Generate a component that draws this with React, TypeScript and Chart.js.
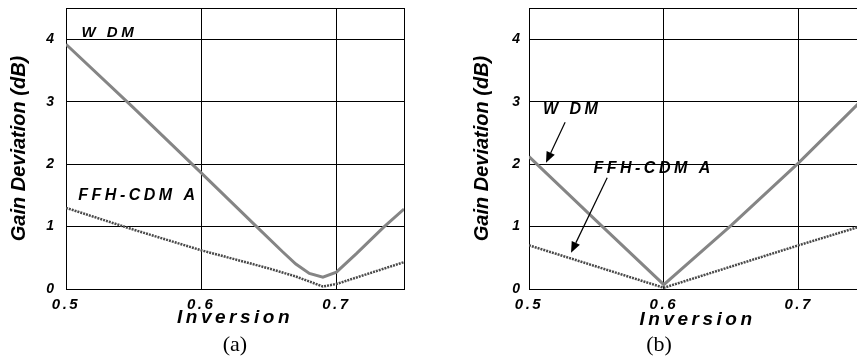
import React, { useEffect, useRef } from 'react';
import { Chart, registerables, LinearScale } from 'chart.js';

// ---------------- data ----------------
const X_TICKS = [0.5, 0.6, 0.7];
const Y_TICKS = [0, 1, 2, 3, 4];

// panel (a)
const A_WDM_X = [0.5, 0.55, 0.6, 0.64, 0.66, 0.67, 0.68, 0.69, 0.7, 0.715, 0.735, 0.75];
const A_WDM_Y = [3.92, 2.9, 1.86, 1.02, 0.6, 0.4, 0.25, 0.19, 0.27, 0.57, 0.99, 1.28];
const A_FFH_X = [0.5, 0.55, 0.6, 0.65, 0.67, 0.69, 0.7, 0.72, 0.75];
const A_FFH_Y = [1.3, 0.95, 0.62, 0.33, 0.2, 0.04, 0.08, 0.22, 0.43];

// panel (b)
const B_X = [0.5, 0.55, 0.6, 0.65, 0.7, 0.75];
const B_WDM_Y = [2.12, 1.09, 0.07, 1.02, 2.02, 3.09];
const B_FFH_Y = [0.7, 0.36, 0.02, 0.36, 0.7, 1.03];

const SERIES_NAMES = ['W DM', 'FFH-CDM A'];
const PANEL_LABELS = ['(a)', '(b)'];
const X_TITLE = 'Inversion';
const Y_TITLE = 'Gain Deviation (dB)';

// annotation anchors (data coordinates)
const A_TEXT_POS = [
  { x: 0.5115, y: 4.03, size: 15 },
  { x: 0.5091, y: 1.43, size: 16 },
];
const B_TEXT_POS = [
  { x: 0.5104, y: 2.8, size: 16 },
  { x: 0.5478, y: 1.85, size: 16 },
];
const B_ARROWS = [
  { from: [0.5268, 2.67], to: [0.5126, 2.02] },
  { from: [0.558, 1.78], to: [0.5312, 0.58] },
];

// ---------------- chart setup ----------------
class SpacedLinearScale extends LinearScale {
  static id = 'spacedLinear';
  drawLabels(area: any) {
    const ctx = this.ctx;
    ctx.save();
    (ctx as any).letterSpacing = this.axis === 'x' ? '2.5px' : '0px';
    super.drawLabels(area);
    ctx.restore();
  }
  drawTitle() {
    const ctx = this.ctx;
    ctx.save();
    (ctx as any).letterSpacing = this.axis === 'x' ? '3.5px' : '0px';
    super.drawTitle();
    ctx.restore();
  }
}
Chart.register(...registerables, SpacedLinearScale);

const FAMILY = '"Liberation Sans", Arial, Helvetica, sans-serif';

function makeAnnot(texts: any[], arrows: any[]) {
  return {
    id: 'annot',
    beforeDatasetsDraw(chart: any) {
      const { ctx, chartArea: a } = chart;
      ctx.save();
      ctx.strokeStyle = '#000';
      ctx.lineWidth = 1;
      ctx.strokeRect(Math.round(a.left) + 0.5, Math.round(a.top) + 0.5, Math.round(a.right - a.left), Math.round(a.bottom - a.top));
      ctx.restore();
    },
    afterDatasetsDraw(chart: any) {
      const { ctx } = chart;
      const x = chart.scales.x;
      const y = chart.scales.y;
      ctx.save();
      ctx.fillStyle = '#000';
      ctx.textAlign = 'left';
      ctx.textBaseline = 'alphabetic';
      texts.forEach((t) => {
        ctx.font = `italic bold ${t.size}px ${FAMILY}`;
        ctx.letterSpacing = '3.5px';
        ctx.fillText(t.text, x.getPixelForValue(t.x), y.getPixelForValue(t.y));
      });
      ctx.letterSpacing = '0px';
      ctx.strokeStyle = '#000';
      ctx.lineWidth = 1.2;
      arrows.forEach((ar) => {
        const x0 = x.getPixelForValue(ar.from[0]);
        const y0 = y.getPixelForValue(ar.from[1]);
        const x1 = x.getPixelForValue(ar.to[0]);
        const y1 = y.getPixelForValue(ar.to[1]);
        const ang = Math.atan2(y1 - y0, x1 - x0);
        const L = 11, W = 4.5;
        const bx = x1 - L * Math.cos(ang);
        const by = y1 - L * Math.sin(ang);
        ctx.beginPath();
        ctx.moveTo(x0, y0);
        ctx.lineTo(bx, by);
        ctx.stroke();
        ctx.beginPath();
        ctx.moveTo(x1, y1);
        ctx.lineTo(bx - W * Math.sin(ang), by + W * Math.cos(ang));
        ctx.lineTo(bx + W * Math.sin(ang), by - W * Math.cos(ang));
        ctx.closePath();
        ctx.fill();
      });
      ctx.restore();
    },
  };
}

function toPts(xs: number[], ys: number[]) {
  return xs.map((v, i) => ({ x: v, y: ys[i] }));
}

interface PanelProps {
  width: number;
  left: number;
  yAxisWidth: number;
  yTickPad: number;
  yTitlePad: number;
  xTitlePad: number;
  padRight: number;
  wdm: { x: number; y: number }[];
  ffh: { x: number; y: number }[];
  texts: any[];
  arrows: any[];
}

function Panel(p: PanelProps) {
  const ref = useRef<HTMLCanvasElement>(null);
  useEffect(() => {
    const chart = new Chart(ref.current!, {
      type: 'line',
      data: {
        datasets: [
          {
            label: SERIES_NAMES[0],
            data: p.wdm,
            borderColor: '#858585',
            borderWidth: 3,
            pointRadius: 0,
            tension: 0,
          },
          {
            label: SERIES_NAMES[1],
            data: p.ffh,
            borderColor: '#4a4a4a',
            borderWidth: 2.5,
            borderDash: [2, 1],
            pointRadius: 0,
            tension: 0,
          },
        ],
      },
      options: {
        responsive: false,
        animation: false,
        events: [],
        layout: { padding: { top: 8, right: p.padRight, left: 0, bottom: 0 } },
        plugins: { legend: { display: false }, tooltip: { enabled: false } },
        scales: {
          x: {
            type: 'spacedLinear' as any,
            min: 0.5,
            max: 0.75,
            afterBuildTicks: (s: any) => {
              s.ticks = X_TICKS.map((v) => ({ value: v }));
            },
            afterFit: (s: any) => {
              s.height = 70;
              s.paddingLeft = 0;
              s.paddingRight = 0;
            },
            grid: { color: '#000', lineWidth: 1, drawTicks: false },
            border: { display: false },
            ticks: {
              color: '#000',
              padding: 7,
              maxRotation: 0,
              autoSkip: false,
              font: { family: FAMILY, size: 15, weight: 'bold', style: 'italic' },
              callback: (v: any) => Number(v).toFixed(1),
            },
            title: {
              display: true,
              text: X_TITLE,
              color: '#000',
              padding: { top: 0, bottom: p.xTitlePad },
              font: { family: FAMILY, size: 19, weight: 'bold', style: 'italic' },
            },
          },
          y: {
            type: 'spacedLinear' as any,
            min: 0,
            max: 4.5,
            afterBuildTicks: (s: any) => {
              s.ticks = Y_TICKS.map((v) => ({ value: v }));
            },
            afterFit: (s: any) => {
              s.width = p.yAxisWidth;
              s.paddingTop = 0;
              s.paddingBottom = 0;
            },
            grid: { color: '#000', lineWidth: 1, drawTicks: false },
            border: { display: false },
            ticks: {
              color: '#000',
              padding: p.yTickPad,
              font: { family: FAMILY, size: 14, weight: 'bold', style: 'italic' },
              callback: (v: any) => String(v),
            },
            title: {
              display: true,
              text: Y_TITLE,
              color: '#000',
              padding: { top: p.yTitlePad, bottom: 0 },
              font: { family: FAMILY, size: 20, weight: 'bold', style: 'italic' },
            },
          },
        },
      },
      plugins: [makeAnnot(p.texts, p.arrows)],
    });
    return () => chart.destroy();
  }, []);
  return (
    <canvas
      ref={ref}
      width={p.width}
      height={359}
      style={{ position: 'absolute', left: p.left, top: 0, width: p.width, height: 359 }}
    />
  );
}

export default function App() {
  const aTexts = A_TEXT_POS.map((t, i) => ({ ...t, text: SERIES_NAMES[i] }));
  const bTexts = B_TEXT_POS.map((t, i) => ({ ...t, text: SERIES_NAMES[i] }));
  const labelStyle: React.CSSProperties = {
    position: 'absolute',
    top: 333,
    width: 100,
    textAlign: 'center',
    fontFamily: '"Liberation Serif", "Times New Roman", serif',
    fontSize: 22,
    lineHeight: '22px',
    color: '#000',
  };
  return (
    <div
      style={{
        position: 'fixed',
        left: 0,
        top: 0,
        width: 857,
        height: 359,
        overflow: 'hidden',
        background: '#fff',
      }}
    >
      <Panel
        width={430}
        left={0}
        yAxisWidth={66}
        yTickPad={12}
        yTitlePad={7}
        xTitlePad={30}
        padRight={26}
        wdm={toPts(A_WDM_X, A_WDM_Y)}
        ffh={toPts(A_FFH_X, A_FFH_Y)}
        texts={aTexts}
        arrows={[]}
      />
      <Panel
        width={440}
        left={430}
        yAxisWidth={99}
        yTickPad={9}
        yTitlePad={40}
        xTitlePad={28}
        padRight={4}
        wdm={toPts(B_X, B_WDM_Y)}
        ffh={toPts(B_X, B_FFH_Y)}
        texts={bTexts}
        arrows={B_ARROWS}
      />
      <div style={{ ...labelStyle, left: 185 }}>{PANEL_LABELS[0]}</div>
      <div style={{ ...labelStyle, left: 609 }}>{PANEL_LABELS[1]}</div>
    </div>
  );
}
